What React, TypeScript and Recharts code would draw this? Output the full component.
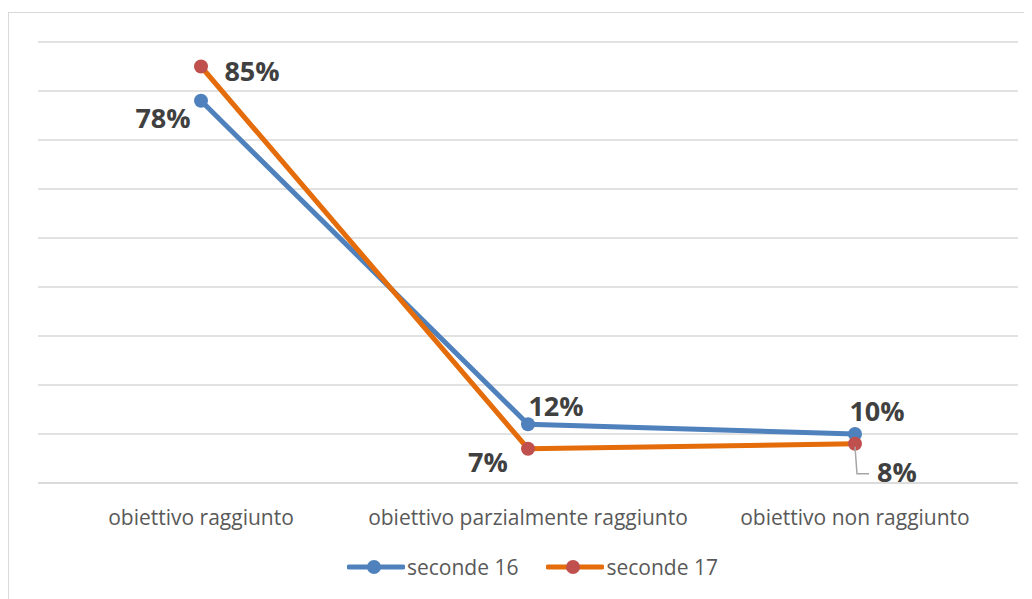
import React from "react";
import { LineChart, Line, XAxis, YAxis, CartesianGrid, LabelList } from "recharts";

const categories = ["obiettivo raggiunto", "obiettivo parzialmente raggiunto", "obiettivo non raggiunto"];
const seconde16 = [78, 12, 10];
const seconde17 = [85, 7, 8];
const yTicks = [0, 10, 20, 30, 40, 50, 60, 70, 80, 90];

const BLUE = "#4F81BD";
const ORANGE = "#E46C0A";
const RED = "#C0504D";
const FONT = "'Open Sans', Lato, sans-serif";

const data = categories.map((name, i) => ({ name, s16: seconde16[i], s17: seconde17[i] }));

// label offsets (dx, dy) from the point, per index
const offs16 = [[-38, 17], [28, -19], [22, -24]];
const offs17 = [[51, 4], [-40, 13], [42, 28]];

const makeLabel = (offs: number[][], leader?: number) => (props: any) => {
  const { x, y, value, index } = props;
  const [dx, dy] = offs[index];
  return (
    <g>
      {leader === index && (
        <polyline
          points={`${x},${y + 3} ${x + 2},${y + 30} ${x + 14},${y + 30}`}
          fill="none"
          stroke="#a6a6a6"
          strokeWidth={1.5}
        />
      )}
      <text
        x={x + dx}
        y={y + dy}
        textAnchor="middle"
        dominantBaseline="central"
        fontFamily={FONT}
        fontWeight={700}
        fontSize={27}
        fill="#404040"
      >
        {value}%
      </text>
    </g>
  );
};

const CatTick = (props: any) => {
  const { x, y, payload } = props;
  return (
    <text x={x} y={y + 26} textAnchor="middle" dominantBaseline="central" fontFamily={FONT} fontSize={21} fill="#595959">
      {payload.value}
    </text>
  );
};

const LegendItem = ({ color, marker, label }: { color: string; marker: string; label: string }) => (
  <div style={{ display: "flex", alignItems: "center", marginRight: 28 }}>
    <svg width={58} height={16}>
      <line x1={2} y1={8} x2={56} y2={8} stroke={color} strokeWidth={5} strokeLinecap="round" />
      <circle cx={27} cy={8} r={7} fill={marker} />
    </svg>
    <span style={{ fontFamily: FONT, fontSize: 21, color: "#595959", marginLeft: 2 }}>{label}</span>
  </div>
);

export default function App() {
  return (
    <div
      style={{
        position: "relative",
        marginTop: 4,
        width: 1030,
        height: 600,
        border: "1px solid #d9d9d9",
        boxSizing: "border-box",
        background: "#fff",
      }}
    >
      <LineChart width={1024} height={540} data={data} margin={{ top: 29, right: 15, bottom: 30, left: 29 }}>
        <CartesianGrid vertical={false} stroke="#d9d9d9" strokeWidth={1.5} />
        <XAxis
          dataKey="name"
          axisLine={{ stroke: "#d9d9d9", strokeWidth: 1.5 }}
          tickLine={false}
          tick={<CatTick />}
          height={40}
          interval={0}
          padding={{ left: 163, right: 163 }}
        />
        <YAxis hide domain={[0, 90]} ticks={yTicks} />
        <Line
          dataKey="s16"
          stroke={BLUE}
          strokeWidth={5}
          dot={{ r: 7, fill: BLUE, stroke: BLUE, strokeWidth: 0 }}
          isAnimationActive={false}
        >
          <LabelList dataKey="s16" content={makeLabel(offs16)} />
        </Line>
        <Line
          dataKey="s17"
          stroke={ORANGE}
          strokeWidth={5}
          dot={{ r: 7, fill: RED, stroke: RED, strokeWidth: 0 }}
          isAnimationActive={false}
        >
          <LabelList dataKey="s17" content={makeLabel(offs17, 2)} />
        </Line>
      </LineChart>
      <div style={{ position: "absolute", left: 338, top: 540, display: "flex" }}>
        <LegendItem color={BLUE} marker={BLUE} label="seconde 16" />
        <LegendItem color={ORANGE} marker={RED} label="seconde 17" />
      </div>
    </div>
  );
}
